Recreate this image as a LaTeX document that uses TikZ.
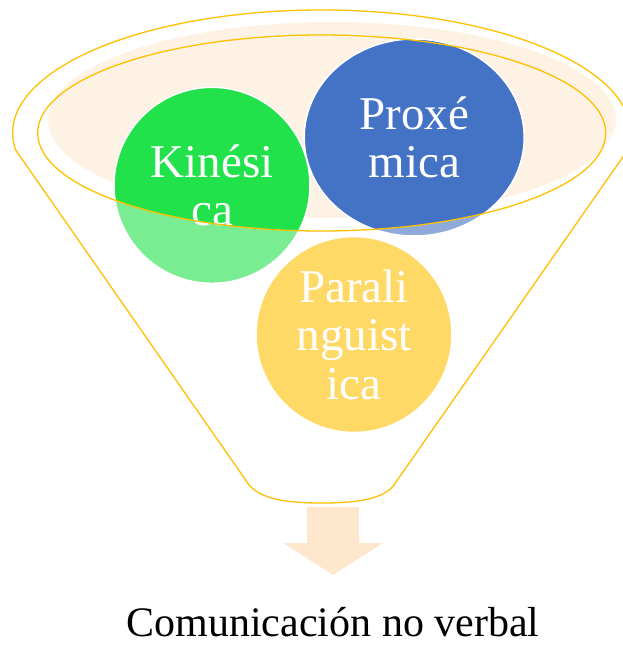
\documentclass[tikz,border=0pt]{standalone}
\usepackage{fontspec}
\setmainfont{Liberation Serif}
\usetikzlibrary{shapes.geometric}
\definecolor{funnelgold}{HTML}{FFC000}
\definecolor{mouthpeach}{HTML}{FEF2E5}
\definecolor{kingreen}{HTML}{22E24B}
\definecolor{proxblue}{HTML}{4472C4}
\definecolor{paraamber}{HTML}{FFC000}
\definecolor{arrowpeach}{HTML}{FFE7CD}
\tikzset{
  bubble/.style={draw=white, line width=1.5pt, inner sep=0pt, text=white,
    align=center, font=\fontsize{47}{48.5}\selectfont},
  funnelline/.style={draw=funnelgold, line width=1.3pt},
}
\begin{document}
\begin{tikzpicture}[x=1pt, y=-1pt]
  \useasboundingbox (0,0) rectangle (623,646);
  % mouth of the funnel
  \fill[mouthpeach] (332,120) ellipse [x radius=284, y radius=98];
  \node[bubble, circle, fill=kingreen, minimum size=196] (kinesica) at (212,185.3) {Kinési\\ca};
  \node[bubble, ellipse, fill=proxblue, minimum width=220, minimum height=197] (proxemica) at (414.2,137.5) {Proxé\\mica};
  \node[bubble, circle, fill=paraamber, minimum size=196] (paraling) at (354,334.5) {Parali\\nguist\\ica};
  % body of the funnel, seen through
  \fill[white, fill opacity=0.4] (37.7,133) arc [start angle=180, end angle=0, x radius=284, y radius=98]
    -- (630.7,133) arc [start angle=0, end angle=8, x radius=309, y radius=123]
    -- (396,482) .. controls (386,500) and (354,503) .. (321.7,503)
    .. controls (290,503) and (258,500) .. (247,482)
    -- (15.7,150.1) arc [start angle=172, end angle=180, x radius=309, y radius=123] -- cycle;
  \draw[funnelline] (321.7,133) ellipse [x radius=284, y radius=98];
  \draw[funnelline] (15.7,150.1) arc [start angle=172, end angle=368, x radius=309, y radius=123]
    -- (396,482) .. controls (386,500) and (354,503) .. (321.7,503)
    .. controls (290,503) and (258,500) .. (247,482) -- cycle;
  % output arrow
  \fill[arrowpeach] (307,507) -- (359,507) -- (359,543) -- (383,543) -- (333,575)
    -- (283,543) -- (307,543) -- cycle;
  \node[anchor=base, inner sep=0pt, font=\fontsize{42}{48}\selectfont] (result) at (333,636.5) {Comunicación no verbal};
\end{tikzpicture}
\end{document}
